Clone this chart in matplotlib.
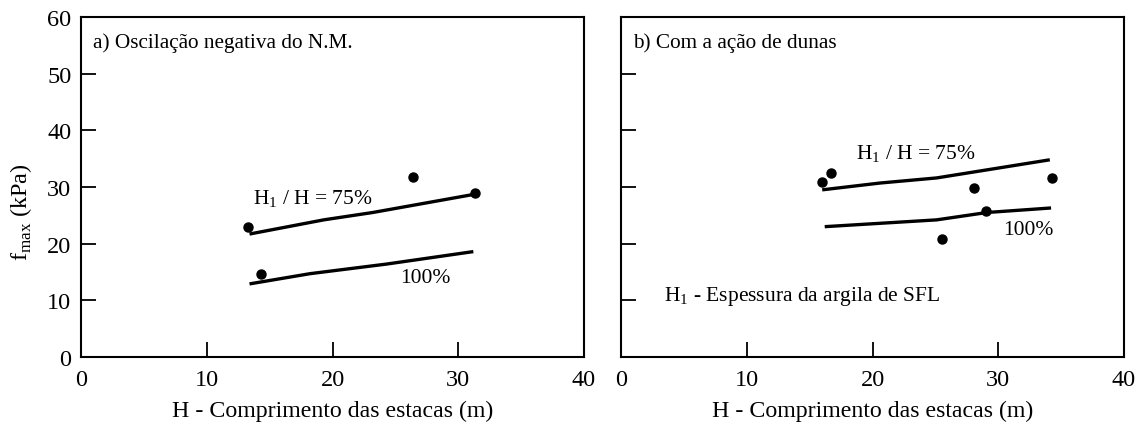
import matplotlib
matplotlib.use("Agg")
import matplotlib.pyplot as plt

plt.rcParams['font.family'] = ['Liberation Serif', 'DejaVu Serif']
plt.rcParams['mathtext.fontset'] = 'custom'
plt.rcParams['mathtext.rm'] = 'Liberation Serif'

# Panel a) - negative water table oscillation
a_line75_x = [13.4, 19.3, 23.2, 31.5]
a_line75_y = [21.7, 24.2, 25.5, 28.8]
a_line100_x = [13.4, 18.2, 24.3, 31.2]
a_line100_y = [12.9, 14.7, 16.4, 18.6]
a_pts_x = [13.3, 26.4, 31.3, 14.3]
a_pts_y = [22.9, 31.7, 28.9, 14.7]

# Panel b) - with dune action
b_line75_x = [16.0, 20.6, 25.1, 34.1]
b_line75_y = [29.5, 30.7, 31.6, 34.8]
b_line100_x = [16.2, 25.1, 29.1, 34.2]
b_line100_y = [23.0, 24.2, 25.5, 26.3]
b_pts_x = [16.0, 16.7, 28.1, 34.3, 29.0, 25.5]
b_pts_y = [30.8, 32.4, 29.8, 31.6, 25.8, 20.8]

x_ticks = [0, 10, 20, 30, 40]
y_ticks = [0, 10, 20, 30, 40, 50, 60]

fig = plt.figure(figsize=(11.39, 4.27), dpi=100)
W, Hh = 1139, 427
ax_a = fig.add_axes([81 / W, (427 - 358) / Hh, 503 / W, 340 / Hh])
ax_b = fig.add_axes([621 / W, (427 - 358) / Hh, 503 / W, 340 / Hh])

for ax in (ax_a, ax_b):
    ax.set_xlim(0, 40)
    ax.set_ylim(0, 60)
    ax.set_xticks(x_ticks)
    ax.set_yticks(y_ticks)
    ax.tick_params(direction='in', length=11, width=1.3, labelsize=17.5,
                   top=False, right=False)
    ax.tick_params(axis='x', pad=9)
    ax.tick_params(axis='y', pad=7)
    for s in ax.spines.values():
        s.set_linewidth(1.5)
    ax.set_xlabel('H - Comprimento das estacas (m)', fontsize=17.2, labelpad=7)

ax_b.tick_params(axis='y', labelleft=False)
ax_a.set_ylabel(r'f$_{\mathregular{max}}$ (kPa)', fontsize=17.5)
ax_a.yaxis.set_label_coords(-0.094, 0.43)

line_kw = dict(color='black', lw=2.4, solid_capstyle='butt')
dot_kw = dict(color='black', marker='o', ms=6.5, ls='none')

ax_a.plot(a_line75_x, a_line75_y, **line_kw)
ax_a.plot(a_line100_x, a_line100_y, **line_kw)
ax_a.plot(a_pts_x, a_pts_y, **dot_kw)
ax_a.text(13.7, 28.0, r'H$_{\mathregular{1}}$ / H = 75%', fontsize=15.5, va='center')
ax_a.text(25.4, 14.0, '100%', fontsize=15.5, va='center')
ax_a.text(0.024, 0.926, 'a) Oscilação negativa do N.M.', transform=ax_a.transAxes,
          fontsize=15.3, va='center')

ax_b.plot(b_line75_x, b_line75_y, **line_kw)
ax_b.plot(b_line100_x, b_line100_y, **line_kw)
ax_b.plot(b_pts_x, b_pts_y, **dot_kw)
ax_b.text(18.7, 36.0, r'H$_{\mathregular{1}}$ / H = 75%', fontsize=15.5, va='center')
ax_b.text(30.4, 22.5, '100%', fontsize=15.5, va='center')
ax_b.text(3.4, 10.8, r'H$_{\mathregular{1}}$ - Espessura da argila de SFL', fontsize=15.5,
          va='center')
ax_b.text(0.024, 0.926, 'b) Com a ação de dunas', transform=ax_b.transAxes,
          fontsize=15.3, va='center')

fig.savefig('out.png', dpi=100)
